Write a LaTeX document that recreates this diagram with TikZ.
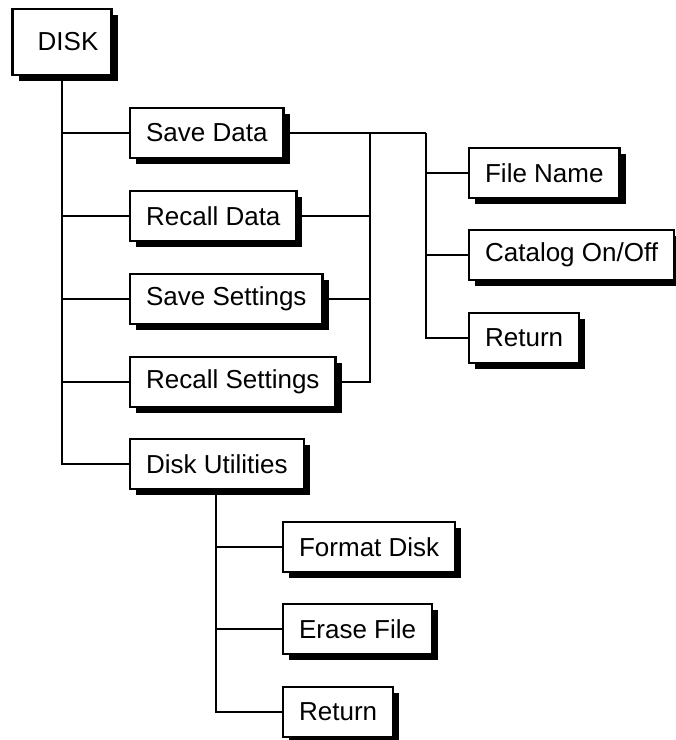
\documentclass[tikz,border=0pt]{standalone}
\usepackage{fontspec}
\setmainfont{Liberation Sans}
\usepackage{tikz}
\usetikzlibrary{shadows}
\tikzset{menubox/.style={draw, line width=2.2pt, fill=white, anchor=west,
    minimum height=50pt, inner xsep=16pt,
    font=\fontsize{26pt}{30pt}\selectfont,
    drop shadow={shadow xshift=6pt, shadow yshift=-6pt, opacity=1, fill=black}}}
\tikzset{rootbox/.style={menubox, anchor=center, inner xsep=10pt, minimum width=99pt, minimum height=66pt}}
\tikzset{wire/.style={line width=2.2pt}}

\begin{document}
\begin{tikzpicture}[x=1pt,y=-1pt]
\useasboundingbox (0,0) rectangle (676,740);

\node[rootbox] (disk) at (62,42) {\hspace{12pt}DISK};

\node[menubox] (savedata) at (129,133) {Save Data};
\node[menubox] (recalldata) at (129,216) {Recall Data};
\node[menubox] (savesettings) at (129,299) {Save Settings};
\node[menubox] (recallsettings) at (129,382) {Recall Settings};
\node[menubox] (diskutil) at (129,464) {Disk Utilities};

\node[menubox] (filename) at (468,173) {File Name};
\node[menubox] (catalog) at (468,255) {Catalog On/Off};
\node[menubox] (retsave) at (468,338) {Return};

\node[menubox] (format) at (282,547) {Format Disk};
\node[menubox] (erase) at (282,629) {Erase File};
\node[menubox] (retdisk) at (282,712) {Return};

% main branch
\draw[wire] (disk.south) |- (savedata.west);
\draw[wire] (disk.south) |- (recalldata.west);
\draw[wire] (disk.south) |- (savesettings.west);
\draw[wire] (disk.south) |- (recallsettings.west);
\draw[wire] (disk.south) |- (diskutil.west);

% save / recall submenu
\draw[wire] (savedata.east) -- ++(85,0) coordinate (busa) -- ++(56,0) coordinate (busb);
\draw[wire] (recalldata.east) -| (busa);
\draw[wire] (savesettings.east) -| (busa);
\draw[wire] (recallsettings.east) -| (busa);
\draw[wire] (busb) |- (filename.west);
\draw[wire] (busb) |- (catalog.west);
\draw[wire] (busb) |- (retsave.west);

% disk utilities submenu
\coordinate (dutap) at ([xshift=87pt]diskutil.south west);
\draw[wire] (dutap) |- (format.west);
\draw[wire] (dutap) |- (erase.west);
\draw[wire] (dutap) |- (retdisk.west);
\end{tikzpicture}
\end{document}
